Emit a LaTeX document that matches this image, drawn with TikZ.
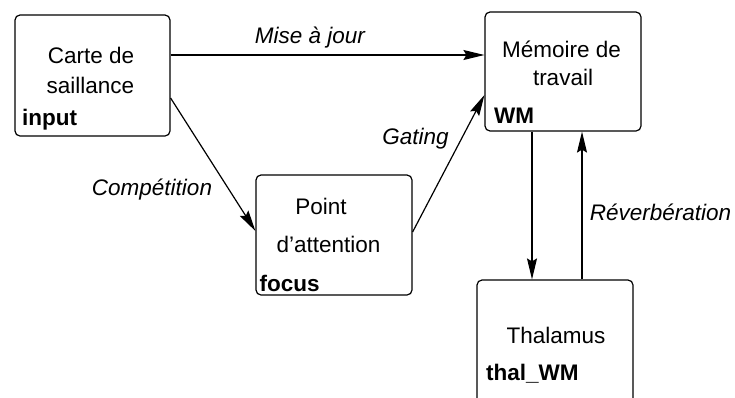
\documentclass[tikz,border=0pt]{standalone}
\usepackage{fontspec}
\setmainfont{Liberation Sans}
\usetikzlibrary{arrows.meta}
\begin{document}
\begin{tikzpicture}[x=1pt,y=-1pt,
  box/.style={draw, rounded corners=5pt, line width=1.2pt, minimum width=156pt, minimum height=120pt, inner sep=0pt},
  txt/.style={inner sep=0pt, anchor=base, font=\fontsize{22.5}{27}\selectfont},
  tag/.style={inner sep=0pt, anchor=base west, font=\fontsize{22.5}{27}\selectfont\bfseries},
  lbl/.style={inner sep=0pt, anchor=base, font=\fontsize{22.5}{27}\selectfont\itshape},
  arr/.style={line width=1.2pt, -{Stealth[length=21pt,width=10pt,inset=3pt]}}]
\useasboundingbox (0,0) rectangle (735,397);
% boxes
\node[box, minimum width=155pt, minimum height=121pt] (carte) at (92.5,75.5) {};
\node[box] (point) at (334,235) {};
\node[box, minimum height=119pt] (mem) at (563,71.5) {};
\node[box, minimum height=140pt] (thal) at (555,350) {};
% box texts
\node[txt] (c1) at (91,63) {Carte de};
\node[txt] (c2) at (90.5,93) {saillance};
\node[tag] (c3) at (22,125) {input};
\node[txt] (p1) at (321,214) {Point};
\node[txt] (p2) at (328.5,252) {d’attention};
\node[tag] (p3) at (259.5,291) {focus};
\node[txt] (m1) at (561.5,57) {Mémoire de};
\node[txt] (m2) at (563,85) {travail};
\node[tag] (m3) at (494,123) {WM};
\node[txt] (t1) at (556,343) {Thalamus};
\node[tag] (t2) at (486,380) {thal\_WM};
% connectors
\draw[arr] ([yshift=20.5pt]carte.east) -- ([yshift=20.5pt]carte.east -| mem.west);
\draw[arr] ([yshift=-22.5pt]carte.east) -- ([yshift=4pt]point.west);
\draw[arr] ([yshift=3pt]point.east) -- ([yshift=-23.5pt]mem.west);
\draw[arr] ([xshift=-31pt]mem.south) -- ([xshift=-31pt]mem.south |- thal.north);
\draw[arr] ([xshift=19pt]mem.south |- thal.north) -- ([xshift=19pt]mem.south);
% labels
\node[lbl] (l1) at (310,43) {Mise à jour};
\node[lbl] (l2) at (152,195) {Compétition};
\node[lbl] (l3) at (415.5,144) {Gating};
\node[lbl] (l4) at (660.5,220) {Réverbération};
\end{tikzpicture}
\end{document}
